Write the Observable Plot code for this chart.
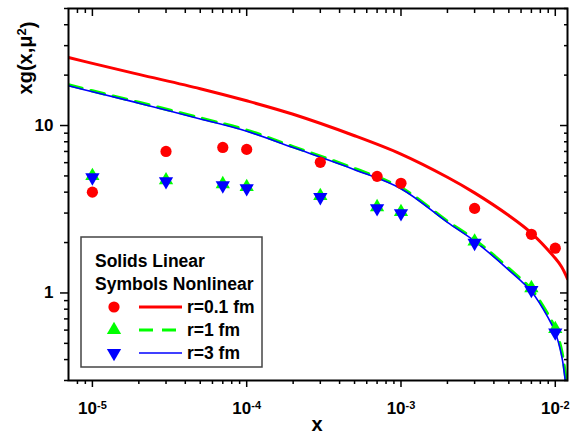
<!DOCTYPE html>
<html><head><meta charset="utf-8">
<script src="https://cdn.jsdelivr.net/npm/d3@7"></script>
<script src="https://cdn.jsdelivr.net/npm/@observablehq/plot@0.6"></script>
<style>
body{margin:0;background:#fff;}
#chart{position:relative;width:572px;height:435px;}
</style>
</head><body><div id="chart"></div>
<script>
// ---- data ----
const pointX = [1e-5, 3e-5, 7e-5, 1e-4, 3e-4, 7e-4, 1e-3, 3e-3, 7e-3, 1e-2];
const nonlinR01 = [4.0, 7.0, 7.4, 7.2, 6.03, 4.97, 4.52, 3.2, 2.24, 1.85];
const nonlinR1 = [5.0, 4.72, 4.47, 4.3, 3.8, 3.26, 3.05, 2.03, 1.07, 0.61];
const nonlinR3 = [4.9, 4.64, 4.39, 4.22, 3.73, 3.2, 2.99, 1.99, 1.04, 0.58];

const linXR01 = [7e-6, 1e-5, 2e-5, 5e-5, 1e-4, 2e-4, 5e-4, 1e-3, 2e-3, 3e-3, 5e-3, 7e-3, 1e-2, 1.1e-2, 1.2e-2];
const linR01 = [25.5, 23.5, 20.2, 16.6, 14.05, 11.67, 8.69, 6.75, 4.91, 3.96, 2.9, 2.28, 1.61, 1.43, 1.215];

const linXR1 = [7e-6, 1e-5, 2e-5, 5e-5, 1e-4, 2e-4, 5e-4, 1e-3, 2e-3, 3e-3, 5e-3, 7e-3, 9e-3, 1e-2, 1.1e-2, 1.175e-2];
const linR1 = [17.5, 16.1, 13.75, 11.1, 9.38, 7.48, 5.53, 4.25, 2.68, 2.08, 1.4, 1.05, 0.74, 0.61, 0.45, 0.3];

const linXR3 = [7e-6, 1e-5, 2e-5, 5e-5, 1e-4, 2e-4, 5e-4, 1e-3, 2e-3, 3e-3, 5e-3, 7e-3, 9e-3, 1e-2, 1.1e-2, 1.16e-2];
const linR3 = [17.3, 15.9, 13.6, 10.95, 9.24, 7.38, 5.45, 4.19, 2.64, 2.04, 1.37, 1.02, 0.71, 0.58, 0.42, 0.3];

const majorXTicks = [1e-5, 1e-4, 1e-3, 1e-2];
const minorXTicks = [8e-6, 9e-6,
  2e-5, 3e-5, 4e-5, 5e-5, 6e-5, 7e-5, 8e-5, 9e-5,
  2e-4, 3e-4, 4e-4, 5e-4, 6e-4, 7e-4, 8e-4, 9e-4,
  2e-3, 3e-3, 4e-3, 5e-3, 6e-3, 7e-3, 8e-3, 9e-3];
const majorYTicks = [1, 10];
const minorYTicks = [0.3, 0.4, 0.5, 0.6, 0.7, 0.8, 0.9, 2, 3, 4, 5, 6, 7, 8, 9, 20, 30, 40, 50];

const legendTitles = ["Solids Linear", "Symbols Nonlinear"];
const seriesNames = ["r=0.1 fm", "r=1 fm", "r=3 fm"];
const seriesColors = ["#ff0000", "#00ff00", "#0000ff"];

// ---- tables ----
const tbl = (xs, ys) => xs.map((x, i) => ({x, y: ys[i]}));
const font = "'Liberation Sans', Arial, Helvetica, sans-serif";
const tickStyle = {strokeWidth: 1.5, stroke: "black", label: null};

const chart = Plot.plot({
  width: 572, height: 435,
  marginLeft: 68, marginRight: 5, marginTop: 8, marginBottom: 55,
  style: {fontFamily: font, background: "white", color: "black", overflow: "visible"},
  x: {type: "log", domain: [7e-6, 0.012]},
  y: {type: "log", domain: [0.3, 50]},
  marks: [
    Plot.line(tbl(linXR01, linR01), {x: "x", y: "y", stroke: seriesColors[0], strokeWidth: 3, curve: "catmull-rom", clip: true}),
    Plot.line(tbl(linXR1, linR1), {x: "x", y: "y", stroke: seriesColors[1], strokeWidth: 3.2, strokeDasharray: "14,9", curve: "catmull-rom", clip: true}),
    Plot.line(tbl(linXR3, linR3), {x: "x", y: "y", stroke: seriesColors[2], strokeWidth: 1.6, curve: "catmull-rom", clip: true}),
    Plot.dot(tbl(pointX, nonlinR01), {x: "x", y: "y", symbol: "circle", r: 5.6, fill: seriesColors[0], stroke: "none"}),
    Plot.dot(tbl(pointX, nonlinR1), {x: "x", y: "y", symbol: "triangle", r: 5.3, fill: seriesColors[1], stroke: "none"}),
    Plot.dot(tbl(pointX, nonlinR3), {x: "x", y: "y", symbol: "triangle", rotate: 180, r: 5.3, fill: seriesColors[2], stroke: "none"}),
    // bottom axis (outward)
    Plot.axisX(majorXTicks, {...tickStyle, anchor: "bottom", tickSize: 7, tickPadding: 14, fontSize: 17, fontWeight: "bold",
      tickFormat: d => String(Math.round(Math.log10(d)))}),
    Plot.axisX(minorXTicks, {...tickStyle, anchor: "bottom", tickSize: 4, tickFormat: () => ""}),
    // top axis (inward)
    Plot.axisX(majorXTicks, {...tickStyle, anchor: "top", tickSize: 7, dy: 7, tickFormat: () => ""}),
    Plot.axisX(minorXTicks, {...tickStyle, anchor: "top", tickSize: 4, dy: 4, tickFormat: () => ""}),
    // left axis (outward)
    Plot.axisY(majorYTicks, {...tickStyle, anchor: "left", tickSize: 8, tickPadding: 7, fontSize: 17, fontWeight: "bold",
      tickFormat: d => String(d)}),
    Plot.axisY(minorYTicks, {...tickStyle, anchor: "left", tickSize: 4, tickFormat: () => ""}),
    // right axis (inward)
    Plot.axisY(majorYTicks, {...tickStyle, anchor: "right", tickSize: 8, dx: -8, tickFormat: () => ""}),
    Plot.axisY(minorYTicks, {...tickStyle, anchor: "right", tickSize: 4, dx: -4, tickFormat: () => ""}),
    Plot.frame({stroke: "black", strokeWidth: 2})
  ]
});
document.getElementById("chart").appendChild(chart);

const svg = d3.select(chart);
// superscript exponents on x tick labels
svg.selectAll('g[aria-label="x-axis tick label"] text').each(function () {
  const t = d3.select(this);
  const s = t.text();
  if (!s) return;
  t.text(null);
  t.append("tspan").text("10");
  t.append("tspan").attr("dy", "-0.42em").attr("font-size", 11).text(s);
});

// axis titles
svg.append("text")
  .attr("x", 317).attr("y", 431)
  .attr("text-anchor", "middle").attr("font-size", 20).attr("font-weight", "bold")
  .attr("font-family", font).text("x");
const yl = svg.append("text")
  .attr("transform", "translate(32,58) rotate(-90)")
  .attr("text-anchor", "middle").attr("font-size", 20).attr("font-weight", "bold")
  .attr("font-family", font);
yl.append("tspan").text("xg(x,\u03bc");
yl.append("tspan").attr("dy", "-0.45em").attr("font-size", 13).text("2");
yl.append("tspan").attr("dy", "0.45em").text(")");

// legend box
const lg = svg.append("g").attr("font-family", font).attr("font-weight", "bold")
  .attr("font-size", 17.5).attr("text-anchor", "start");
lg.append("rect").attr("x", 81).attr("y", 237).attr("width", 181).attr("height", 130)
  .attr("fill", "white").attr("stroke", "#444").attr("stroke-width", 1.5);
legendTitles.forEach((t, i) => {
  lg.append("text").attr("x", 95).attr("y", 267 + i * 23).attr("text-anchor", "start").text(t);
});
const symPath = [d3.symbol(d3.symbolCircle, Math.PI * 5.6 * 5.6)(),
                 d3.symbol(d3.symbolTriangle, Math.PI * 5.3 * 5.3)(),
                 d3.symbol(d3.symbolTriangle, Math.PI * 5.3 * 5.3)()];
seriesNames.forEach((name, i) => {
  const cy = 307 + i * 23;
  lg.append("path").attr("d", symPath[i]).attr("fill", seriesColors[i])
    .attr("transform", `translate(114,${cy})` + (i === 2 ? " rotate(180)" : ""));
  lg.append("line").attr("x1", 139).attr("x2", 182).attr("y1", cy).attr("y2", cy)
    .attr("stroke", seriesColors[i])
    .attr("stroke-width", i === 0 ? 3 : i === 1 ? 3.2 : 1.6)
    .attr("stroke-dasharray", i === 1 ? "14,9" : null);
  lg.append("text").attr("x", 187).attr("y", cy + 6).attr("text-anchor", "start").text(name);
});
</script>
</body></html>
